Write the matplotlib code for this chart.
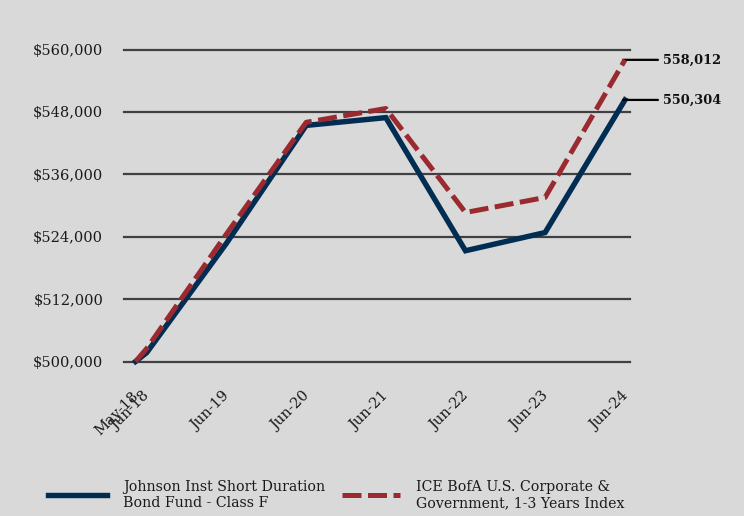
import matplotlib
matplotlib.use("Agg")
import matplotlib.pyplot as plt
import matplotlib.transforms as mtransforms
from matplotlib.ticker import FuncFormatter
from datetime import datetime, timedelta

# Data
dates = ["2018-05-10", "2018-06-30", "2019-06-30", "2020-06-30", "2021-06-30",
         "2022-06-30", "2023-06-30", "2024-06-30"]
date_labels = ["May-18", "Jun-18", "Jun-19", "Jun-20", "Jun-21", "Jun-22", "Jun-23", "Jun-24"]
fund = [500000, 501700, 522700, 545400, 546900, 521300, 524800, 550304]
index = [500000, 502500, 524500, 546000, 548650, 528650, 531550, 558012]
yticks = [500000, 512000, 524000, 536000, 548000, 560000]
fund_label = "Johnson Inst Short Duration\nBond Fund - Class F"
index_label = "ICE BofA U.S. Corporate &\nGovernment, 1-3 Years Index"

bg = "#d9d9d9"
navy = "#022d52"
red = "#9b2a30"

plt.rcParams['font.family'] = ['DejaVu Serif']

x = [datetime.strptime(d, "%Y-%m-%d") for d in dates]

fig = plt.figure(figsize=(7.44, 5.16), dpi=100, facecolor=bg)
ax = fig.add_axes([124/744, 1 - 361.5/516, (630 - 124)/744, (361.5 - 49.5)/516])
ax.set_facecolor(bg)

last = x[-1]
ax.set_xlim(last - timedelta(days=2296), last + timedelta(days=23))
ax.set_ylim(500000, 560000)

for y in yticks:
    ax.axhline(y, color="#404040", lw=1.6, zorder=1, clip_on=False)

ln1, = ax.plot(x, fund, color=navy, lw=3.9, zorder=3, clip_on=False,
               solid_joinstyle='miter', label=fund_label)
ln2, = ax.plot(x, index, color=red, lw=3.6, zorder=4, clip_on=False,
               dashes=(3.8, 1.3), label=index_label)

for spine in ax.spines.values():
    spine.set_visible(False)

ax.set_yticks(yticks)
ax.yaxis.set_major_formatter(FuncFormatter(lambda v, p: f"${v:,.0f}"))
ax.tick_params(axis='y', length=0, pad=15, labelsize=10.5, colors="#1a1a1a")
ax.set_xticks(x)
ax.set_xticklabels(date_labels, rotation=45, ha='right', rotation_mode='anchor')
ax.tick_params(axis='x', length=0, pad=19.5, labelsize=10.5, colors="#1a1a1a")
shift = mtransforms.ScaledTranslation(-4/100, 0, fig.dpi_scale_trans)
for lbl in ax.get_xticklabels():
    lbl.set_transform(lbl.get_transform() + shift)

# End annotations
for val in (fund[-1], index[-1]):
    ax.annotate("", xy=(last - timedelta(days=9), val), xytext=(last + timedelta(days=151), val),
                arrowprops=dict(arrowstyle='-', color='black', lw=1.6,
                                shrinkA=0, shrinkB=0), annotation_clip=False)
    ax.text(last + timedelta(days=174), val, f"{val:,.0f}", fontsize=9.3, fontweight='bold',
            va='center', ha='left', color='#111111', clip_on=False)

leg = fig.legend(handles=[ln1, ln2], loc='lower left', bbox_to_anchor=(0.048, -0.013),
                 ncol=2, frameon=False, fontsize=10.2, handlelength=4.1,
                 handletextpad=1.15, columnspacing=1.2, labelspacing=0.2)
for t in leg.get_texts():
    t.set_color("#1a1a1a")

fig.savefig("out.png", dpi=100, facecolor=bg)
